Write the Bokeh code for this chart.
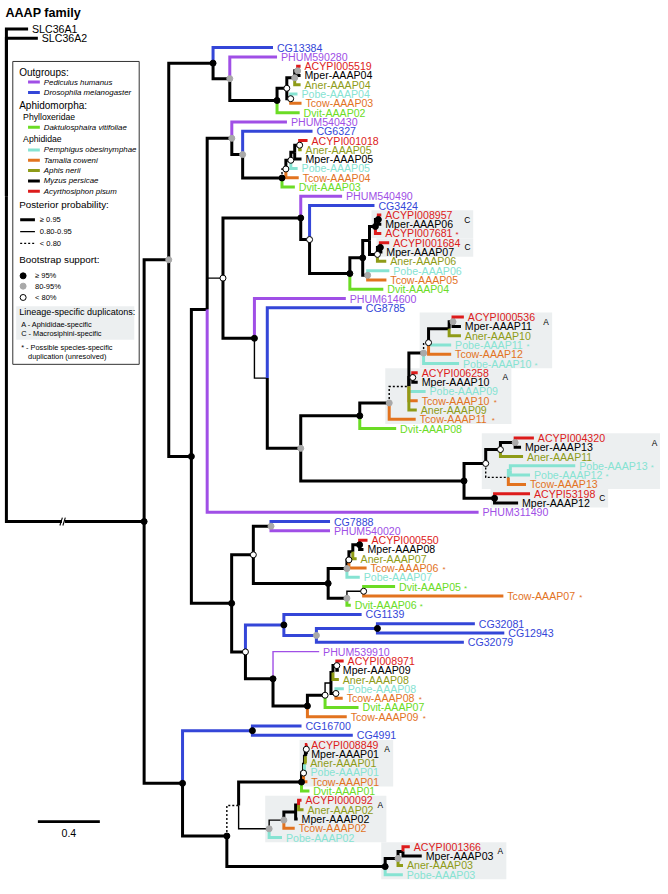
from bokeh.plotting import figure
from bokeh.models import Range1d, ColumnDataSource
from bokeh.embed import file_html
from bokeh.resources import INLINE
from bokeh.core.properties import value

# ---------------- DATA ----------------
# Newick clades, branch lengths in substitutions/site (scale bar = 0.4).
# internal label: 1st char bootstrap (b >=95%, g 80-95%, w <80%, - none),
#                 2nd char posterior (t 0.80-0.95, d <0.80, default >=0.95)
# leaf suffix "*" = possible species-specific duplication, "@t" = thin branch
OUTGROUP_NAMES = ["SLC36A1", "SLC36A2"]
OUTGROUP_LENGTHS = [0.140, 0.203]
INGROUP_STEM = 0.889  # drawn (broken) length

CLADE_AAAP04 = "(CG13384:0.387,(PHUM590280:0.305,((((ACYPI005519:0.019,Mper-AAAP04:0.019)g:0.019,Aner-AAAP04:0.038)g:0.051,(Pobe-AAAP04:0.044,Tcow-AAAP03:0.070)w:0.025)w:0.063,Dvit-AAAP02:0.146)b:0.305)g:0.108)b"
CLADE_AAAP05 = "(PHUM540430:0.356,(CG6327:0.451,(((((ACYPI001018:0.051,Aner-AAAP05:0.013)w:0.032,Mper-AAAP05:0.044)-:0.025,Pobe-AAAP05:0.044)w:0.032,Tcow-AAAP04:0.083)wd:0.025,Dvit-AAAP03:0.083)b:0.254)g:0.070)g"
CLADE_AAAP06_07 = "(PHUM540490:0.267,(CG3424:0.419,(((((ACYPI008957:0.019,Mper-AAAP06:0.019)b:0.019,ACYPI007681*:0.038)b:0.038,((ACYPI001684:0.057,Mper-AAAP07:0.013)b:0.019,Aner-AAAP06:0.057)w:0.051)-:0.044,(Pobe-AAAP06:0.140,Tcow-AAAP05:0.121)g:0.032)b:0.083,Dvit-AAAP04:0.216)b:0.260)w:0.057)b"
CLADE_AAAP10_13 = "(PHUM614600:0.590,(CG8785:0.610,((((((((ACYPI000536:0.070,Mper-AAAP11:0.051)g:0.025,Aner-AAAP10:0.076)-:0.133,Pobe-AAAP11*:0.146,Tcow-AAAP12:0.146)wd:0.032,Pobe-AAAP10*:0.229)g:0.095,(ACYPI006258:0.032,Mper-AAAP10:0.032)w:0.025,Pobe-AAAP09:0.108,Tcow-AAAP10*:0.057,Aner-AAAP09:0.051)-d:0.127,Tcow-AAAP11*:0.171)g:0.190,Dvit-AAAP08:0.235)b:0.381,((((ACYPI004320:0.121,Mper-AAAP13:0.038)g:0.095,Aner-AAAP11:0.146)w:0.095,((Pobe-AAAP13*:0.419,Pobe-AAAP12*:0.127)-:0.013,Tcow-AAAP13:0.114)-d:0.146)w:0.140,(ACYPI53198:0.229,Mper-AAAP12:0.152)b:0.197)b:1.054)g:0.216)-t:0.083)b"
CLADE_CG7888 = "(CG7888:0.381,PHUM540020:0.381)g"
CLADE_AAAP08 = "((((ACYPI000550:0.051,Mper-AAAP08:0.025)b:0.044,Aner-AAAP07:0.025)-:0.025,Tcow-AAAP06*:0.114)w:0.013,Pobe-AAAP07:0.083)g"
CLADE_DVIT05 = "((Dvit-AAAP05*:0.203,Tcow-AAAP07*:0.902)wt:0.108,Dvit-AAAP06*:0.025)g"
CLADE_CG1139 = "(CG1139:0.502,((CG32081:0.629,CG12943:0.819)b:0.394,CG32079:0.952)g:0.210)b"
CLADE_AAAP09 = "(PHUM539910@t:0.298,(((((ACYPI008971:0.044,Mper-AAAP09:0.013)w:0.025,Aner-AAAP08:0.038)-:0.013,(Pobe-AAAP08:0.051,Tcow-AAAP08*:0.044)w:0.032)-t:0.038,Dvit-AAAP07:0.216)w:0.114,Tcow-AAAP09*:0.254)b:0.222)b"
CLADE_CG16700 = "(CG16700:0.317,CG4991:0.648)b"
CLADE_AAAP01 = "(((((ACYPI008849:0.006,Mper-AAAP01:0.006)w:0.006,Aner-AAAP01:0.006)-:0.006,Pobe-AAAP01:0.013)-:0.006,Tcow-AAAP01:0.025)w:0.013,Dvit-AAAP01:0.051)b"
CLADE_AAAP02 = "((((ACYPI000092:0.019,Aner-AAAP02:0.032)-:0.019,Mper-AAAP02:0.013)-:0.076,Tcow-AAAP02:0.070)gt:0.095,Pobe-AAAP02:0.083)gt"
CLADE_AAAP03 = "(((ACYPI001366:0.044,Mper-AAAP03:0.121)-:0.032,Aner-AAAP03:0.032)g:0.083,Pobe-AAAP03:0.114)b"

# lineage-specific duplications (first leaf, last leaf, kind)
DUP_FIRST = ["ACYPI008957", "ACYPI001684", "ACYPI000536", "ACYPI006258", "ACYPI004320",
             "ACYPI53198", "ACYPI008849", "ACYPI000092", "ACYPI001366"]
DUP_LAST = ["ACYPI007681", "Mper-AAAP07", "Pobe-AAAP10", "Tcow-AAAP11", "Tcow-AAAP13",
            "Mper-AAAP12", "Tcow-AAAP01", "Pobe-AAAP02", "Pobe-AAAP03"]
DUP_KIND = ["C", "C", "A", "A", "A", "C", "A", "A", "A"]

SPECIES_PREFIX = ["PHUM", "CG", "Dvit", "Pobe", "Tcow", "Aner", "Mper", "ACYPI", "SLC"]
SPECIES_NAME = ["Pediculus humanus", "Drosophila melanogaster", "Daktulosphaira vitifoliae",
                "Pemphigus obesinymphae", "Tamalia coweni", "Aphis nerii", "Myzus persicae",
                "Acyrthosiphon pisum", ""]
SCALE_BAR = 0.4

# ---------------- styles ----------------
SPECIES_COLOR = {"PHUM": "#a04fe6", "CG": "#3446d8", "Dvit": "#6bdc25", "Pobe": "#86e3d2",
                 "Tcow": "#e2731f", "Aner": "#8e9b17", "Mper": "#000000", "ACYPI": "#dd1b1b",
                 "SLC": "#000000"}
DOT_FILL = {"b": "#000000", "g": "#a9a9a9", "w": "#ffffff"}
FONT = "Liberation Sans"
LABEL_SIZE = 10.8

# ---------------- assemble tree ----------------
C_STR = f"({CLADE_AAAP05}:0.159,({CLADE_AAAP06_07}:0.502,{CLADE_AAAP10_13}:0.203)wt:0.102,PHUM311490:1.752)-"
D_STR = (f"(({CLADE_CG7888}:0.114,({CLADE_AAAP08}:0.121,{CLADE_DVIT05}:0.121)b:0.483)w:0.140,"
         f"({CLADE_CG1139}:0.248,{CLADE_AAAP09}:0.178)w:0.089)b")
I1_STR = f"({CLADE_AAAP04}:0.286,({C_STR}:0.102,{D_STR}:0.260)b:0.146)g"
I2_STR = f"({CLADE_CG16700}:0.451,(({CLADE_AAAP01}:0.406,{CLADE_AAAP02}:0.197)-d:0.076,{CLADE_AAAP03}:1.022)b:0.286)b"
TREE = (f"({OUTGROUP_NAMES[0]}:{OUTGROUP_LENGTHS[0]},{OUTGROUP_NAMES[1]}:{OUTGROUP_LENGTHS[1]},"
        f"({I1_STR}:0.159,{I2_STR}:0.248)b:{INGROUP_STEM})")


def parse(s):
    s = "".join(s.split())
    pos = 0

    def node():
        nonlocal pos
        n = {"children": [], "len": 0.0}
        if s[pos] == "(":
            pos += 1
            while True:
                n["children"].append(node())
                if s[pos] == ",":
                    pos += 1
                    continue
                pos += 1  # ')'
                break
        st = pos
        while pos < len(s) and s[pos] not in ":,()":
            pos += 1
        n["label"] = s[st:pos]
        if pos < len(s) and s[pos] == ":":
            pos += 1
            st = pos
            while pos < len(s) and s[pos] not in ",()":
                pos += 1
            n["len"] = float(s[st:pos])
        return n

    return node()


root = parse(TREE)

# ---------------- geometry (reference pixel space) ----------------
W_FIG, H_FIG = 660, 886
XR = (-3.0, 668.0)
YR = (901.0, 0.0)
SX = W_FIG / (XR[1] - XR[0])
PX_UNIT = 157.5
ROOT_PX = 3.0
LEAF_TOP, LEAF_STEP = 29.0, 9.4505
LABEL_GAP = 4.0

AW = {"0": .556, "1": .556, "2": .556, "3": .556, "4": .556, "5": .556, "6": .556, "7": .556,
      "8": .556, "9": .556, "A": .667, "C": .722, "G": .778, "H": .722, "I": .278, "L": .556,
      "M": .833, "P": .667, "S": .667, "U": .722, "Y": .667, "D": .722, "T": .611, "a": .556,
      "b": .556, "c": .5, "e": .556, "i": .222, "n": .556, "o": .556, "p": .556, "r": .333,
      "t": .278, "v": .5, "w": .722, "-": .333, "*": .389, " ": .278}


def tw(s, size):
    return sum(AW.get(c, .556) for c in s) * size


def fs(size):
    return f"{size * SX:.2f}px"


leaves = []


def layout(n, x, parent=None):
    n["x"] = x
    n["parent"] = parent
    lab = n["label"]
    if not n["children"]:
        name, _, post = lab.partition("@")
        n["star"] = name.endswith("*")
        n["name"] = name.rstrip("*")
        n["post"] = post or "T"
        n["boot"] = "-"
        n["y"] = LEAF_TOP + LEAF_STEP * len(leaves)
        n["lo"] = n["hi"] = len(leaves)
        sp = next(k for k in SPECIES_PREFIX if n["name"].startswith(k))
        n["sp"] = {sp}
        leaves.append(n)
    else:
        n["boot"] = lab[0] if lab else "-"
        n["post"] = lab[1] if len(lab) > 1 else "T"
        for c in n["children"]:
            layout(c, x + c["len"], n)
        n["y"] = sum(c["y"] for c in n["children"]) / len(n["children"])
        n["lo"] = n["children"][0]["lo"]
        n["hi"] = n["children"][-1]["hi"]
        n["sp"] = set().union(*[c["sp"] for c in n["children"]])


layout(root, 0.0)


def px(x):
    return ROOT_PX + x * PX_UNIT


allnodes = []


def walk(n):
    allnodes.append(n)
    for c in n["children"]:
        walk(c)


walk(root)

p = figure(width=W_FIG, height=H_FIG, x_range=Range1d(*XR), y_range=Range1d(*YR),
           output_backend="svg", toolbar_location=None, min_border=0,
           x_axis_type=None, y_axis_type=None)
p.grid.visible = False
p.outline_line_color = None
p.background_fill_color = "white"
p.border_fill_color = "white"

# ---------------- duplication boxes ----------------
name_idx = {l["name"]: i for i, l in enumerate(leaves)}


def label_end(l):
    e = px(l["x"]) + LABEL_GAP + tw(l["name"], LABEL_SIZE)
    if l["star"]:
        e += 8
    return e


bl, br, bt, bb, lx, ly, lt = [], [], [], [], [], [], []
for f, l, k in zip(DUP_FIRST, DUP_LAST, DUP_KIND):
    i0, i1 = name_idx[f], name_idx[l]
    m = root
    while True:
        nxt = [c for c in m["children"] if c["lo"] <= i0 and c["hi"] >= i1]
        if not nxt:
            break
        m = nxt[0]
    right = min(max(label_end(leaves[i]) for i in range(i0, i1 + 1)) + 13, XR[1])
    bl.append(px(m["x"]) - 4)
    br.append(right)
    bt.append(leaves[i0]["y"] - 4.7)
    bb.append(leaves[i1]["y"] + 4.7)
    lx.append(right - 9)
    ly.append(leaves[i0]["y"] + 4.7)
    lt.append(k)
p.quad(left=bl, right=br, top=bt, bottom=bb, fill_color="#eceff0", line_color=None)
p.text(x=lx, y=ly, text=lt, text_font=value(FONT), text_font_size=fs(8.5),
       text_color="black", text_align="left", text_baseline="middle")

# ---------------- branches ----------------
seg = {"solid": dict(xs=[], ys=[], c=[], w=[]), "dash": dict(xs=[], ys=[], c=[], w=[])}
for n in allnodes:
    par = n["parent"]
    if par is None:
        continue
    col = SPECIES_COLOR[next(iter(n["sp"]))] if len(n["sp"]) == 1 else "#000000"
    key = "dash" if n["post"] == "d" else "solid"
    wdt = 3.0 if n["post"] == "T" else 1.4
    seg[key]["xs"].append([px(par["x"]), px(par["x"]), px(n["x"])])
    seg[key]["ys"].append([par["y"], n["y"], n["y"]])
    seg[key]["c"].append(col)
    seg[key]["w"].append(wdt)
for key, dash in (("solid", "solid"), ("dash", "2 2")):
    d = seg[key]
    src = ColumnDataSource(dict(xs=d["xs"], ys=d["ys"], c=d["c"], w=d["w"]))
    p.multi_line(xs="xs", ys="ys", line_color="c", line_width="w", line_dash=dash,
                 line_join="miter", line_cap="butt", source=src)

# broken ingroup stem
stem = root["children"][-1]
sy = stem["y"]
bx = px(0) + 0.41 * (px(stem["x"]) - px(0))
p.quad(left=[bx - 1], right=[bx + 2], top=[sy - 2.5], bottom=[sy + 2.5], fill_color="white", line_color=None)
p.segment(x0=[bx - 3, bx], y0=[sy + 4, sy + 4], x1=[bx - 0.5, bx + 2.5], y1=[sy - 4, sy - 4],
          line_color="black", line_width=1.1)

# ---------------- support dots ----------------
dx, dy, dc = [], [], []
for n in allnodes:
    if n["children"] and n["boot"] in DOT_FILL:
        dx.append(px(n["x"]))
        dy.append(n["y"])
        dc.append(DOT_FILL[n["boot"]])
p.scatter(x=dx, y=dy, size=6, fill_color=dc, line_color=["#000000" if c == "#ffffff" else c for c in dc],
          line_width=1)

# ---------------- leaf labels ----------------
tx, ty, tt, tc, sx_, sy_, sc = [], [], [], [], [], [], []
for l in leaves:
    sp = next(iter(l["sp"]))
    x0 = px(l["x"]) + LABEL_GAP
    tx.append(x0)
    ty.append(l["y"])
    tt.append(l["name"])
    tc.append(SPECIES_COLOR[sp])
    if l["star"]:
        sx_.append(x0 + tw(l["name"], LABEL_SIZE) + 3)
        sy_.append(l["y"] + 1.5)
        sc.append(SPECIES_COLOR[sp])
p.text(x=tx, y=ty, text=tt, text_color=tc, text_font=value(FONT), text_font_size=fs(LABEL_SIZE),
       text_align="left", text_baseline="middle")
p.text(x=sx_, y=sy_, text=["*"] * len(sx_), text_color=sc, text_font=value(FONT),
       text_font_size=fs(8), text_align="left", text_baseline="middle")

# ---------------- title ----------------
p.text(x=[2], y=[13], text=["AAAP family"], text_font=value(FONT), text_font_size=fs(12.8),
       text_font_style="bold", text_baseline="alphabetic")

# ---------------- scale bar ----------------
p.segment(x0=[35], y0=[835], x1=[35 + SCALE_BAR * PX_UNIT], y1=[835], line_color="black", line_width=2.8)
p.text(x=[35 + SCALE_BAR * PX_UNIT / 2], y=[847], text=[f"{SCALE_BAR}"], text_font=value(FONT),
       text_font_size=fs(10.8), text_align="center", text_baseline="middle")

# ---------------- legend ----------------
p.quad(left=[9.5], right=[138], top=[62], bottom=[370], fill_color="white", line_color="#333333", line_width=1)
p.quad(left=[13], right=[133], top=[311], bottom=[345], fill_color="#eceff0", line_color=None)


def ltxt(x, y, s, size, style="normal", color="black"):
    p.text(x=[x], y=[y], text=[s], text_font=value(FONT), text_font_size=fs(size), text_color=color,
           text_font_style=style, text_align="left", text_baseline="middle")


ltxt(16, 73, "Outgroups:", 10.2)
ltxt(16, 107, "Aphidomorpha:", 10.2)
ltxt(20, 118, "Phylloxeridae", 8.8)
ltxt(20, 141, "Aphididae", 8.8)
sw_y = {"PHUM": 83, "CG": 93.5, "Dvit": 129, "Pobe": 152, "Tcow": 162.5, "Aner": 173, "Mper": 183.5,
        "ACYPI": 194}
for k, nm in zip(SPECIES_PREFIX, SPECIES_NAME):
    if k in sw_y:
        p.segment(x0=[25], y0=[sw_y[k]], x1=[37], y1=[sw_y[k]], line_color=SPECIES_COLOR[k], line_width=3)
        ltxt(41, sw_y[k], nm, 8.0, "italic")
ltxt(16, 207, "Posterior probability:", 10.0)
p.segment(x0=[17], y0=[223], x1=[32], y1=[223], line_color="black", line_width=3)
p.segment(x0=[17], y0=[235], x1=[32], y1=[235], line_color="black", line_width=1.4)
p.segment(x0=[17], y0=[247], x1=[32], y1=[247], line_color="black", line_width=1.4, line_dash="2 2")
ltxt(37, 223, "\u2265 0.95", 7.7)
ltxt(37, 235, "0.80-0.95", 7.7)
ltxt(37, 247, "< 0.80", 7.7)
ltxt(16, 263, "Bootstrap support:", 10.0)
p.scatter(x=[20, 20, 20], y=[280, 290.5, 302], size=6, fill_color=["#000000", "#a9a9a9", "#ffffff"],
          line_color=["#000000", "#a9a9a9", "#000000"], line_width=1)
ltxt(32, 280, "\u2265 95%", 7.7)
ltxt(32, 290.5, "80-95%", 7.7)
ltxt(32, 302, "< 80%", 7.7)
ltxt(16, 317, "Lineage-specific duplicatons:", 9.2)
ltxt(18, 329, "A - Aphididae-specific", 7.5)
ltxt(18, 338.5, "C - Macrosiphini-specific", 7.5)
ltxt(18, 353, "* - Possible species-specific", 7.5)
ltxt(25, 362, "duplication (unresolved)", 7.5)

open("out.html", "w").write(file_html(p, INLINE))
